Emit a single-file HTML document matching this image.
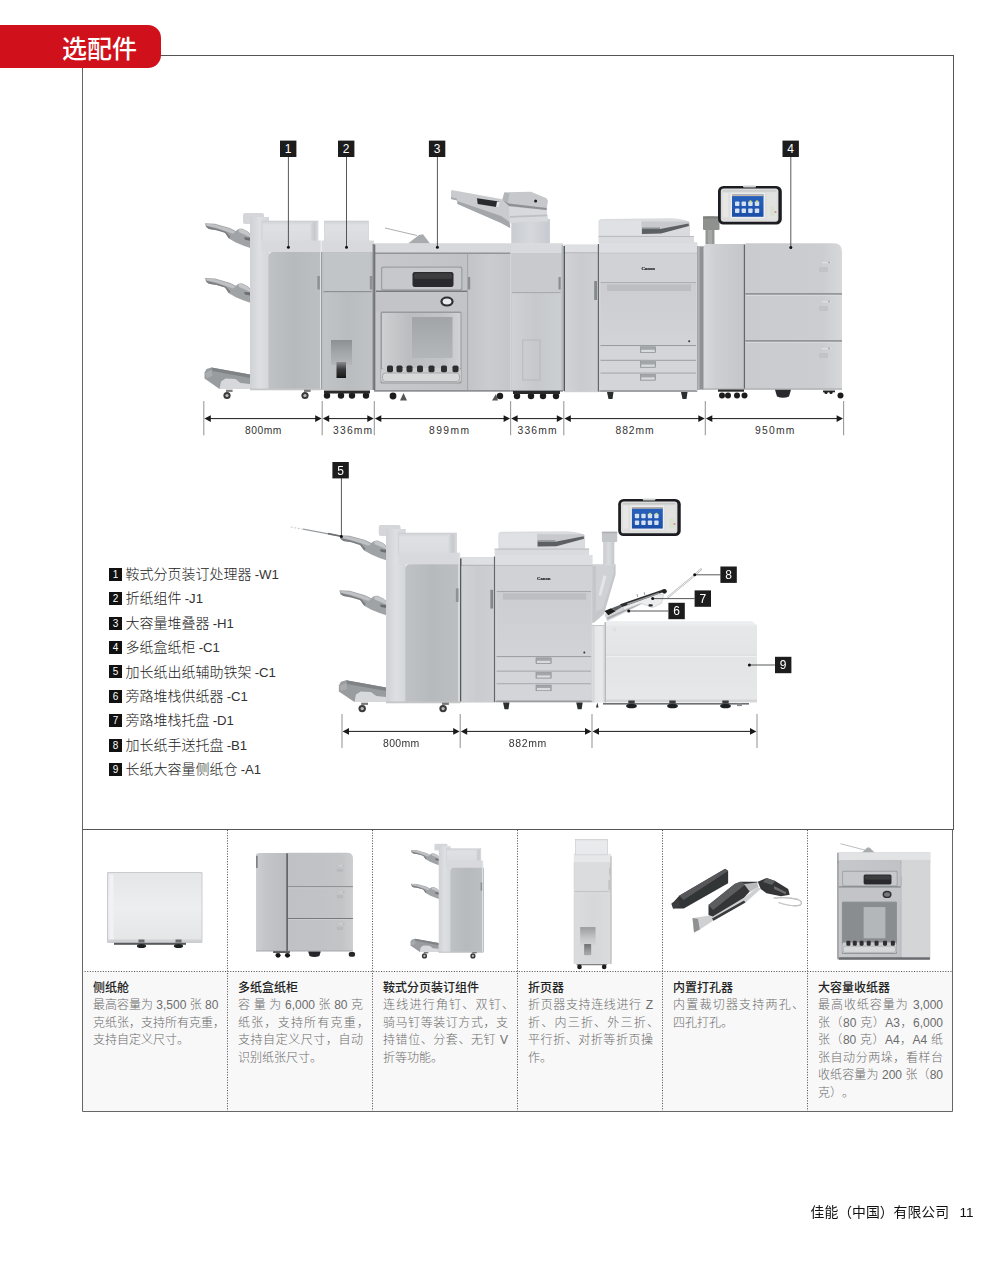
<!DOCTYPE html>
<html lang="zh-CN">
<head>
<meta charset="utf-8">
<title>选配件</title>
<style>
html,body{margin:0;padding:0;background:#fff;}
body{width:1000px;height:1266px;position:relative;overflow:hidden;font-family:"Liberation Sans","Noto Sans CJK SC",sans-serif;color:#222;}
.abs{position:absolute;}
#tab{left:0;top:25px;width:161px;height:43px;background:#d0111b;border-radius:0 13px 13px 0;}
#tab span{position:absolute;left:62px;top:6.5px;font-size:25px;line-height:34px;color:#fff;font-weight:400;font-family:"Liberation Sans","Noto Sans CJK SC Medium","Noto Sans CJK SC",sans-serif;letter-spacing:0;white-space:nowrap;}
#box{left:82px;top:55px;width:870px;height:773px;border:1px solid #555;border-left-color:#666;box-sizing:content-box;}
.hl{background:#555;height:1px;}
.vl{background:#666;width:1px;}
#legend{left:109px;top:562.1px;}
#legend div{height:24.4px;line-height:24.4px;font-size:14px;font-weight:300;color:#222;white-space:nowrap;}
#legend u{text-decoration:none;font-size:13.2px;color:#333;margin-left:-0.5px;}
#legend b{display:inline-block;width:13px;height:13px;background:#111;color:#fff;font-size:10px;line-height:13px;text-align:center;font-weight:400;margin-right:3.5px;font-family:"Liberation Sans",sans-serif;vertical-align:middle;position:relative;top:-1px;}
.num{position:absolute;width:17px;height:17px;background:#1c1c1c;color:#fff;font-size:12px;line-height:17px;text-align:center;font-family:"Liberation Sans",sans-serif;}
#tbl{left:82px;top:830px;width:871px;height:282px;}
.cell{position:absolute;top:0;width:145px;height:282px;}
.cell .txt{position:absolute;left:0;top:141.5px;width:145px;height:140px;background:#f8f8f8;}
.cell h4{margin:0;position:absolute;left:11px;top:8px;font-size:12px;line-height:17.6px;font-weight:400;font-family:"Liberation Sans","Noto Sans CJK SC Medium","Noto Sans CJK SC",sans-serif;color:#222;white-space:nowrap;}
.cell p span{display:block;white-space:nowrap;}
.cell p .ln{text-align:justify;text-align-last:justify;}
.cell p i{font-style:normal;font-feature-settings:"halt";}
.cell p{margin:0;position:absolute;left:11px;top:25.6px;width:125px;font-size:12px;line-height:17.6px;font-weight:300;color:#6c6c6c;text-align:justify;text-spacing-trim:space-all;}
#foot{right:26.5px;top:1202px;font-size:13.85px;line-height:20px;color:#111;white-space:nowrap;font-family:"Liberation Sans","Noto Sans CJK SC",sans-serif;}
#foot span{margin-left:10.5px;font-size:13.5px;}
</style>
</head>
<body>
<!-- frame -->
<div class="abs" id="box"></div>
<div class="abs" id="tab"><span>选配件</span></div>

<!-- legend -->
<div class="abs" id="legend">
<div><b>1</b>鞍式分页装订处理器<u> -W1</u></div>
<div><b>2</b>折纸组件<u> -J1</u></div>
<div><b>3</b>大容量堆叠器<u> -H1</u></div>
<div><b>4</b>多纸盒纸柜<u> -C1</u></div>
<div><b>5</b>加长纸出纸辅助铁架<u> -C1</u></div>
<div><b>6</b>旁路堆栈供纸器<u> -C1</u></div>
<div><b>7</b>旁路堆栈托盘<u> -D1</u></div>
<div><b>8</b>加长纸手送托盘<u> -B1</u></div>
<div><b>9</b>长纸大容量侧纸仓<u> -A1</u></div>
</div>

<svg class="abs" style="left:0;top:0" width="1000" height="1266" viewBox="0 0 1000 1266"><defs>
<filter id="soft" x="-2%" y="-2%" width="104%" height="104%"><feGaussianBlur stdDeviation="0.45"/></filter>
<linearGradient id="gTray" x1="0" y1="0" x2="1" y2="0"><stop offset="0" stop-color="#b9bbbe"/><stop offset="0.5" stop-color="#a4a7aa"/><stop offset="1" stop-color="#96999c"/></linearGradient>
<linearGradient id="gFrame" x1="0" y1="0" x2="1" y2="0"><stop offset="0" stop-color="#cfd1d5"/><stop offset="0.5" stop-color="#dddfe3"/><stop offset="1" stop-color="#d4d6da"/></linearGradient>
<linearGradient id="gTopTray" x1="0" y1="0" x2="0" y2="1"><stop offset="0" stop-color="#cfd1d5"/><stop offset="0.2" stop-color="#dee0e4"/><stop offset="1" stop-color="#d9dbdf"/></linearGradient>
<linearGradient id="gDoor" x1="0" y1="0" x2="1" y2="0"><stop offset="0" stop-color="#bfc2c5"/><stop offset="0.5" stop-color="#b7babd"/><stop offset="1" stop-color="#bcbfc2"/></linearGradient>
<linearGradient id="gFold" x1="0" y1="0" x2="1" y2="0"><stop offset="0" stop-color="#c1c4c7"/><stop offset="0.5" stop-color="#babdc0"/><stop offset="1" stop-color="#c0c3c6"/></linearGradient>
<linearGradient id="gSlot" x1="0" y1="0" x2="0" y2="1"><stop offset="0" stop-color="#8d9092"/><stop offset="0.5" stop-color="#a3a6a8"/><stop offset="1" stop-color="#b4b6b9"/></linearGradient>
<linearGradient id="gStk" x1="0" y1="0" x2="1" y2="0"><stop offset="0" stop-color="#c6c8cb"/><stop offset="1" stop-color="#c0c2c5"/></linearGradient>
<linearGradient id="gStkDoor" x1="0" y1="0" x2="1" y2="0"><stop offset="0" stop-color="#c2c4c7"/><stop offset="0.5" stop-color="#cacccf"/><stop offset="1" stop-color="#c4c6c9"/></linearGradient>
<linearGradient id="gFold2" x1="0" y1="0" x2="1" y2="0"><stop offset="0" stop-color="#cfd1d4"/><stop offset="0.5" stop-color="#c6c8cb"/><stop offset="1" stop-color="#cccfd1"/></linearGradient>
<linearGradient id="gWin" x1="0" y1="0" x2="1" y2="0"><stop offset="0" stop-color="#cdcfd1"/><stop offset="0.35" stop-color="#bbbdc0"/><stop offset="0.8" stop-color="#c2c4c7"/><stop offset="1" stop-color="#d0d2d4"/></linearGradient>
<linearGradient id="gWinIn" x1="0" y1="0" x2="0" y2="1"><stop offset="0" stop-color="#a2a5a8"/><stop offset="1" stop-color="#b4b7ba"/></linearGradient>
<linearGradient id="gMainL" x1="0" y1="0" x2="1" y2="0"><stop offset="0" stop-color="#d0d2d5"/><stop offset="0.5" stop-color="#c9cbce"/><stop offset="1" stop-color="#cdd0d2"/></linearGradient>
<linearGradient id="gMainDoor" x1="0" y1="0" x2="0" y2="1"><stop offset="0" stop-color="#cbcdd0"/><stop offset="1" stop-color="#d1d3d6"/></linearGradient>
<linearGradient id="gScreen" x1="0" y1="0" x2="0" y2="1"><stop offset="0" stop-color="#2a62bd"/><stop offset="1" stop-color="#1b4fa8"/></linearGradient>
<linearGradient id="gDeckL" x1="0" y1="0" x2="1" y2="0"><stop offset="0" stop-color="#d7d9dc"/><stop offset="0.3" stop-color="#cdcfd2"/><stop offset="1" stop-color="#c4c6c9"/></linearGradient>
<linearGradient id="gDeckR" x1="0" y1="0" x2="1" y2="0"><stop offset="0" stop-color="#c9cbce"/><stop offset="0.8" stop-color="#cccdd0"/><stop offset="1" stop-color="#d6d8da"/></linearGradient>
<linearGradient id="gSide" x1="0" y1="0" x2="0" y2="1"><stop offset="0" stop-color="#e7e8ea"/><stop offset="0.5" stop-color="#e3e4e6"/><stop offset="1" stop-color="#e7e8ea"/></linearGradient>
<linearGradient id="gSideP" x1="0" y1="0" x2="1" y2="0"><stop offset="0" stop-color="#c9cbce"/><stop offset="0.25" stop-color="#e6e7e9"/><stop offset="0.8" stop-color="#e9eaec"/><stop offset="1" stop-color="#d4d6d8"/></linearGradient>
<linearGradient id="gArm" x1="0" y1="0" x2="1" y2="0"><stop offset="0" stop-color="#c9cbce"/><stop offset="0.5" stop-color="#d9dbde"/><stop offset="1" stop-color="#c4c6c9"/></linearGradient>
<linearGradient id="gSideT" x1="0" y1="0" x2="0" y2="1"><stop offset="0" stop-color="#e4e6e8"/><stop offset="0.5" stop-color="#eceef0"/><stop offset="1" stop-color="#e3e5e7"/></linearGradient>
<filter id="darken"><feComponentTransfer><feFuncR type="linear" slope="0.9"/><feFuncG type="linear" slope="0.9"/><feFuncB type="linear" slope="0.9"/></feComponentTransfer></filter>
<filter id="lighten"><feComponentTransfer><feFuncR type="linear" slope="0.62" intercept="0.37"/><feFuncG type="linear" slope="0.62" intercept="0.37"/><feFuncB type="linear" slope="0.62" intercept="0.37"/></feComponentTransfer></filter>
<linearGradient id="gStem" x1="0" y1="0" x2="0" y2="1"><stop offset="0" stop-color="#8a8c8f"/><stop offset="0.45" stop-color="#3b3c3e"/><stop offset="1" stop-color="#161617"/></linearGradient>
<linearGradient id="gSlotT" x1="0" y1="0" x2="0" y2="1"><stop offset="0" stop-color="#9a9c9e"/><stop offset="0.6" stop-color="#c4c6c8"/><stop offset="1" stop-color="#d4d5d7"/></linearGradient>
<linearGradient id="gStemT" x1="0" y1="0" x2="0" y2="1"><stop offset="0" stop-color="#6f7173"/><stop offset="1" stop-color="#a9abad"/></linearGradient>
<linearGradient id="gPillar" x1="0" y1="0" x2="1" y2="0"><stop offset="0" stop-color="#c9ccd0"/><stop offset="0.5" stop-color="#d6d8dc"/><stop offset="1" stop-color="#c6c9cd"/></linearGradient>
<linearGradient id="gTopTrayR" x1="0" y1="0" x2="1" y2="0"><stop offset="0" stop-color="#d9dbdf"/><stop offset="0.6" stop-color="#c6c8cc"/><stop offset="1" stop-color="#d6d8dc"/></linearGradient>
</defs><g filter="url(#soft)"><path d="M205.0 223.2 L215.0 223.7 L229.8 228.0 L235.8 231.0 L238.4 228.9 L241.9 228.5 L247.1 231.0 L250.2 233.7 L250.2 248.0 L243.7 245.8 L235.8 242.4 L228.9 238.4 L225.0 232.8 L216.7 230.2 L208.9 228.9 L205.9 226.7Z" fill="#a0a3a6" /><path d="M206.0 223.8 L215.0 224.4 L229.5 228.7 L235.5 231.8 L233.0 233.7 L226.0 231.2 L216.0 227.8 L207.0 225.8Z" fill="#bfc1c4" /><path d="M205.9 226.7 L208.9 228.9 L216.7 230.2 L225.0 232.8 L228.9 238.4 L230.5 236.7 L226.0 231.7 L216.0 228.4 L207.0 226.2Z" fill="#7c7f82" /><path d="M238.4 229.4 L241.9 229.0 L247.1 231.5 L250.2 234.7 L250.2 237.2 L245.0 234.7 L239.0 232.2Z" fill="#c4c6c9" /><path d="M244.0 237.2 L250.2 237.7 L250.2 240.7 L245.0 239.7Z" fill="#6a6d70" /><path d="M205.0 278.0 L215.0 278.5 L229.8 282.8 L235.8 285.8 L238.4 283.7 L241.9 283.3 L247.1 285.8 L250.2 288.5 L250.2 302.8 L243.7 300.6 L235.8 297.2 L228.9 293.2 L225.0 287.6 L216.7 285.0 L208.9 283.7 L205.9 281.5Z" fill="#a0a3a6" /><path d="M206.0 278.6 L215.0 279.2 L229.5 283.5 L235.5 286.6 L233.0 288.5 L226.0 286.0 L216.0 282.6 L207.0 280.6Z" fill="#bfc1c4" /><path d="M205.9 281.5 L208.9 283.7 L216.7 285.0 L225.0 287.6 L228.9 293.2 L230.5 291.5 L226.0 286.5 L216.0 283.2 L207.0 281.0Z" fill="#7c7f82" /><path d="M238.4 284.2 L241.9 283.8 L247.1 286.3 L250.2 289.5 L250.2 292.0 L245.0 289.5 L239.0 287.0Z" fill="#c4c6c9" /><path d="M244.0 292.0 L250.2 292.5 L250.2 295.5 L245.0 294.5Z" fill="#6a6d70" /><path d="M204.5 372.5 L206.5 369.0 L211.5 367.5 L250.0 374.5 L250.0 389.0 L219.5 389.0 L204.5 378.5Z" fill="#999c9f" /><path d="M211.5 367.5 L250.0 374.5 L250.0 378.0 L212.5 371.0Z" fill="#808386" /><path d="M205.0 373.0 L211.5 370.0 L212.5 376.0 L206.5 378.0Z" fill="#a9acaf" /><path d="M221.0 381.5 L225.5 378.5 L235.5 379.0 L240.5 383.0 L250.0 384.0 L250.0 389.0 L219.5 389.0Z" fill="#d6d8db" /><rect x="243.0" y="213.0" width="21.0" height="11.0" fill="#d4d6d9" rx="2"/><rect x="250.0" y="217.0" width="19.0" height="173.0" fill="url(#gFrame)"/><rect x="262.0" y="221.0" width="56.0" height="21.0" fill="url(#gTopTray)" stroke="#c9cbce" stroke-width="0.6"/><rect x="310.0" y="222.0" width="7.5" height="19.0" fill="url(#gTopTrayR)"/><rect x="262.0" y="240.5" width="59.5" height="12.0" fill="#d7d9dd"/><path d="M268.5 389.5V257.0Q268.5 252.0 273.5 252.0H320.0V389.5Z" fill="url(#gDoor)" /><rect x="320.0" y="241.0" width="1.3" height="148.5" fill="#dfe1e3"/><rect x="321.2" y="252.0" width="0.9" height="137.5" fill="#85888b"/><rect x="317.3" y="276.0" width="2.6" height="13.5" fill="#8f9295"/><rect x="250.0" y="388.5" width="71.5" height="1.8" fill="#c4c6c8"/><circle cx="227" cy="395.5" r="3.6" fill="#3a3a3a" /><circle cx="227" cy="395.5" r="1.62" fill="#bbb" /><rect x="226.0" y="389.7" width="6.6" height="2.2" fill="#777"/><circle cx="305" cy="395.5" r="3.6" fill="#3a3a3a" /><circle cx="305" cy="395.5" r="1.62" fill="#bbb" /><rect x="304.0" y="389.7" width="6.6" height="2.2" fill="#777"/><rect x="324.5" y="221.0" width="44.0" height="21.0" fill="url(#gTopTray)" stroke="#c9cbce" stroke-width="0.6"/><rect x="322.0" y="240.5" width="52.0" height="12.0" fill="#d7d9dd"/><rect x="322.0" y="252.0" width="52.0" height="138.0" fill="#bcbfc2"/><rect x="323.5" y="252.5" width="47.0" height="38.5" fill="#c2c5c8"/><rect x="323.5" y="291.0" width="48.0" height="1.3" fill="#8d9093"/><rect x="323.5" y="292.5" width="49.0" height="97.0" fill="url(#gFold)"/><rect x="369.8" y="276.0" width="2.6" height="13.5" fill="#8f9295"/><rect x="372.6" y="244.0" width="1.6" height="146.0" fill="#808386"/><rect x="331.0" y="340.0" width="21.0" height="25.0" fill="url(#gSlot)"/><rect x="336.5" y="362.0" width="9.5" height="16.0" fill="url(#gStem)"/><circle cx="327" cy="395.5" r="3.2" fill="#1e1e1e" /><circle cx="341" cy="395.5" r="3.2" fill="#1e1e1e" /><circle cx="352" cy="395.5" r="3.2" fill="#1e1e1e" /><circle cx="366" cy="395.5" r="3.2" fill="#1e1e1e" /><rect x="324.0" y="390.5" width="46.0" height="3.0" fill="#2b2b2b"/><path d="M511.3 243.6 L511.3 221.0 L549.9 219.0 L549.9 243.6Z" fill="url(#gPillar)" /><path d="M451.0 190.4 L453.0 190.2 L501.1 198.9 L510.0 204.0 L510.2 228.1 L501.1 222.9 L457.5 204.0 L456.9 200.2 L451.0 198.9Z" fill="#c9cbce" /><path d="M457.2 201.0 L501.1 216.0 L509.5 222.0 L510.2 228.1 L501.1 222.9 L457.5 204.0Z" fill="#a4a7aa" /><path d="M451.0 197.0 L457.0 198.4 L457.0 200.4 L451.0 198.9Z" fill="#a9acaf" /><path d="M477.0 198.2 L499.2 201.5 L497.9 207.3 L477.7 204.0Z" fill="#2b2c2e" /><path d="M497.0 201.5 L499.6 201.8 L498.4 207.4 L496.0 207.0Z" fill="#e8e9ea" /><path d="M504.4 192.4 L531.0 191.7 L546.6 198.2 L547.9 200.8 L546.6 209.9 L547.9 221.6 L509.6 222.9 L508.9 206.0 L502.4 199.5Z" fill="#c6c8cc" /><path d="M509.0 206.5 L546.6 210.2 L547.9 221.6 L509.6 222.9Z" fill="#d7d9dc" /><path d="M502.4 199.5 L508.9 203.5 L546.6 208.0 L546.6 210.0 L508.9 206.0Z" fill="#8e9194" /><path d="M510.0 216.0 L547.0 214.5 L547.4 216.2 L510.0 217.8Z" fill="#bdbfc3" /><path d="M504.4 192.4 L509.5 193.0 L508.0 203.0 L502.4 199.5Z" fill="#b2b5b8" /><circle cx="535.6" cy="201.1" r="1.5" fill="#1c1c1d" /><path d="M385.0 228.0L417.0 235.5" stroke="#999" stroke-width="0.80" fill="none"/><path d="M408.0 243.6L419.0 235.0L423.0 234.2L430.0 243.6Z" fill="#a9acaf" /><rect x="374.0" y="243.6" width="136.6" height="148.0" fill="#c3c5c8"/><rect x="374.0" y="243.6" width="136.6" height="9.4" fill="#d6d8db"/><rect x="374.0" y="252.6" width="136.6" height="1.1" fill="#7d8083"/><rect x="374.0" y="244.5" width="1.3" height="146.0" fill="#6f7275"/><rect x="376.0" y="254.0" width="91.0" height="136.0" fill="url(#gStk)"/><rect x="467.3" y="254.0" width="1.0" height="136.0" fill="#999c9f"/><rect x="468.3" y="254.0" width="41.5" height="136.0" fill="url(#gStkDoor)"/><rect x="468.0" y="277.0" width="2.2" height="12.5" fill="#8b8e91"/><rect x="381.0" y="266.5" width="81.5" height="24.0" fill="#9da0a3" rx="2.0"/><rect x="382.2" y="267.7" width="79.0" height="21.6" fill="#c6c8cb" rx="1.5"/><rect x="412.5" y="272.0" width="41.0" height="15.0" fill="#2a2b2d" rx="2.2"/><rect x="414.0" y="273.3" width="38.0" height="5.5" fill="#3c3e41" rx="1.5"/><rect x="376.0" y="290.6" width="91.0" height="1.3" fill="#6d7073"/><rect x="376.0" y="292.5" width="91.0" height="19.5" fill="#c2c4c7"/><ellipse cx="447.0" cy="301.6" rx="6.6" ry="5.0" fill="#2e2f31"/><ellipse cx="447.0" cy="301.6" rx="4.4" ry="3.0" fill="#e9eaeb"/><rect x="380.5" y="311.5" width="81.0" height="72.0" fill="#989b9e" rx="1.5"/><rect x="382.0" y="313.0" width="78.5" height="55.0" fill="url(#gWin)"/><rect x="412.0" y="317.0" width="40.5" height="41.0" fill="url(#gWinIn)"/><rect x="381.0" y="368.0" width="80.0" height="14.5" fill="#c9cbcd" rx="3.0"/><rect x="382.5" y="373.0" width="77.0" height="8.5" fill="#d6d8da" rx="3.0" stroke="#8f9295" stroke-width="0.6"/><rect x="387.0" y="365.6" width="6.0" height="6.6" fill="#2d2e30" rx="1.6"/><rect x="396.5" y="365.6" width="6.0" height="6.6" fill="#2d2e30" rx="1.6"/><rect x="406.5" y="365.6" width="6.0" height="6.6" fill="#2d2e30" rx="1.6"/><rect x="417.0" y="365.6" width="6.0" height="6.6" fill="#2d2e30" rx="1.6"/><rect x="428.5" y="365.6" width="6.0" height="6.6" fill="#2d2e30" rx="1.6"/><rect x="441.0" y="365.6" width="6.0" height="6.6" fill="#2d2e30" rx="1.6"/><rect x="452.5" y="365.6" width="6.0" height="6.6" fill="#2d2e30" rx="1.6"/><rect x="374.0" y="390.0" width="136.6" height="1.6" fill="#8d9093"/><rect x="510.6" y="243.6" width="52.4" height="148.0" fill="#c9cbce"/><rect x="510.6" y="243.6" width="52.4" height="9.4" fill="#d8dadd"/><rect x="512.0" y="253.0" width="48.5" height="39.5" fill="#c8cacd"/><rect x="512.0" y="292.3" width="48.5" height="1.0" fill="#9c9fa2"/><rect x="512.0" y="293.3" width="48.5" height="97.0" fill="url(#gFold2)"/><rect x="558.5" y="277.0" width="2.2" height="12.5" fill="#8b8e91"/><rect x="561.6" y="245.0" width="1.4" height="146.0" fill="#b4b7ba"/><rect x="522.8" y="340.0" width="17.2" height="40.0" fill="none" stroke="#b0b3b6" stroke-width="0.7"/><rect x="510.6" y="390.0" width="52.4" height="1.6" fill="#8d9093"/><circle cx="393" cy="396" r="3.4" fill="#1e1e1e" /><circle cx="500" cy="396" r="3.2" fill="#1e1e1e" /><path d="M400 400.5L403.5 393L407 400.5Z" fill="#555" /><path d="M492 400.5L496 394L498 400.5Z" fill="#555" /><circle cx="517" cy="396" r="3.2" fill="#1e1e1e" /><circle cx="531" cy="396" r="3.2" fill="#1e1e1e" /><circle cx="543" cy="396" r="3.2" fill="#1e1e1e" /><circle cx="556" cy="396" r="3.2" fill="#1e1e1e" /><rect x="513.0" y="391.0" width="47.0" height="3.0" fill="#2b2b2b"/><rect x="705.5" y="216.5" width="9.0" height="28.0" fill="#959795"/><rect x="703.0" y="216.5" width="16.5" height="13.5" fill="#8f918f" rx="1"/><rect x="703.0" y="216.5" width="16.5" height="2.0" fill="#7d7f7d"/><rect x="708.0" y="230.0" width="4.0" height="14.0" fill="#a6a8a6"/><rect x="718.0" y="186.0" width="63.8" height="38.6" fill="#1d1f21" rx="5.5"/><rect x="720.8" y="188.6" width="57.6" height="33.2" fill="#dcdddc" rx="3.0"/><rect x="743.0" y="185.6" width="13.0" height="2.0" fill="#cfd1d1" rx="1.0"/><rect x="722.5" y="190.2" width="54.0" height="1.4" fill="#c6c8c8" rx="0.7"/><rect x="730.6" y="192.8" width="34.4" height="25.6" fill="#eceded"/><rect x="732.0" y="194.5" width="31.5" height="22.3" fill="url(#gScreen)"/><rect x="732.0" y="194.5" width="31.5" height="1.6" fill="#c9b9a6"/><rect x="735.0" y="201.4" width="4.4" height="4.6" fill="#d4e1f3" rx="0.8"/><rect x="741.6" y="201.4" width="4.4" height="4.6" fill="#d4e1f3" rx="0.8"/><rect x="748.2" y="201.4" width="4.4" height="4.6" fill="#d4e1f3" rx="0.8"/><circle cx="750.4000000000001" cy="201.4" r="1.2" fill="#c9dc6a" /><rect x="754.8" y="201.4" width="4.4" height="4.6" fill="#d4e1f3" rx="0.8"/><circle cx="757.0" cy="201.4" r="1.2" fill="#c9dc6a" /><rect x="735.0" y="208.4" width="4.4" height="4.6" fill="#d4e1f3" rx="0.8"/><rect x="741.6" y="208.4" width="4.4" height="4.6" fill="#d4e1f3" rx="0.8"/><rect x="748.2" y="208.4" width="4.4" height="4.6" fill="#d4e1f3" rx="0.8"/><rect x="754.8" y="208.4" width="4.4" height="4.6" fill="#d4e1f3" rx="0.8"/><rect x="723.0" y="193.0" width="5.4" height="24.0" fill="#e7e7e5"/><rect x="766.6" y="192.5" width="10.0" height="27.0" fill="#e2e3e1"/><rect x="770.0" y="206.0" width="5.0" height="10.0" fill="#d9e2d2"/><circle cx="775.5" cy="212.0" r="1.1" fill="#d98a8a" /><path d="M598.5 243.0V236.5H598.5V222.0Q598.5 219.0 602.0 219.0L672.0 218.3Q688.0 219.5 690.0 223.0L690.0 236.0H694.0V243.0Z" fill="#d9dbde" /><rect x="598.5" y="236.0" width="95.5" height="1.0" fill="#b9bcbf"/><rect x="599.5" y="220.5" width="42.0" height="14.5" fill="#dfe1e4"/><path d="M641.5 221.5L689.0 221.5L689.0 225.0L660.0 233.0L641.5 234.0Z" fill="#c7c9cc" /><path d="M642.0 229.0L660.0 229.0L688.5 223.5L689.0 226.0L661.0 233.5L642.0 234.0Z" fill="#5d6063" /><rect x="642.0" y="227.5" width="18.0" height="1.6" fill="#8e9194"/><rect x="563.5" y="244.7" width="35.5" height="147.5" fill="#cfd1d4"/><rect x="563.5" y="244.7" width="35.5" height="7.8" fill="#dedfe2"/><rect x="563.5" y="252.5" width="35.5" height="0.9" fill="#a5a8ab"/><rect x="563.5" y="246.0" width="1.5" height="145.0" fill="#55585b"/><rect x="565.0" y="253.4" width="33.0" height="138.0" fill="url(#gMainL)"/><rect x="594.2" y="281.0" width="2.8" height="19.0" fill="#85888b"/><rect x="597.8" y="244.0" width="1.5" height="147.5" fill="#63666a"/><rect x="599.3" y="242.5" width="98.0" height="149.0" fill="#d2d4d7"/><rect x="599.3" y="242.5" width="98.0" height="10.5" fill="#dcdee1"/><rect x="599.3" y="252.8" width="98.0" height="0.8" fill="#b6b9bc"/><rect x="600.5" y="253.6" width="95.5" height="28.6" fill="#d0d2d5"/><text x="648.2" y="269.6" font-size="4.8" font-weight="700" font-family="Liberation Serif,serif" text-anchor="middle" fill="#2a2a2a" stroke="#2a2a2a" stroke-width="0.2">Canon</text><rect x="600.5" y="282.2" width="95.5" height="1.0" fill="#a4a7aa"/><rect x="600.5" y="283.2" width="95.5" height="62.0" fill="url(#gMainDoor)"/><rect x="607.0" y="284.5" width="84.0" height="6.5" fill="#bcbec1"/><circle cx="689.2" cy="341.3" r="1.0" fill="#333" /><rect x="600.5" y="345.2" width="95.5" height="1.0" fill="#8c8f92"/><rect x="600.5" y="346.2" width="95.5" height="13.6" fill="#d3d5d8"/><rect x="600.5" y="359.8" width="95.5" height="1.1" fill="#a1a4a7"/><rect x="640.3" y="346.8" width="15.4" height="5.8" fill="#a3a6a9" stroke="#85888b" stroke-width="0.5"/><rect x="641.3" y="349.8" width="13.4" height="2.2" fill="#d9dbdd"/><rect x="600.5" y="361.0" width="95.5" height="11.6" fill="#d3d5d8"/><rect x="600.5" y="372.6" width="95.5" height="1.1" fill="#a1a4a7"/><rect x="640.3" y="361.6" width="15.4" height="5.8" fill="#a3a6a9" stroke="#85888b" stroke-width="0.5"/><rect x="641.3" y="364.6" width="13.4" height="2.2" fill="#d9dbdd"/><rect x="600.5" y="373.8" width="95.5" height="16.2" fill="#d3d5d8"/><rect x="600.5" y="390.0" width="95.5" height="1.1" fill="#a1a4a7"/><rect x="640.3" y="374.4" width="15.4" height="5.8" fill="#a3a6a9" stroke="#85888b" stroke-width="0.5"/><rect x="641.3" y="377.4" width="13.4" height="2.2" fill="#d9dbdd"/><rect x="697.0" y="246.0" width="7.0" height="144.0" fill="#b4b7ba"/><rect x="699.5" y="247.0" width="4.5" height="142.0" fill="#8f9295"/><rect x="697.0" y="246.0" width="1.2" height="144.0" fill="#a3a6a9"/><rect x="599.3" y="390.5" width="98.0" height="1.4" fill="#9a9da0"/><path d="M607.0 392.0H613.5L612.5 399.0L608.5 399.0Z" fill="#2c2d2f" /><path d="M681.0 392.0H687.5L686.5 399.0L682.5 399.0Z" fill="#2c2d2f" /><path d="M703.5 389.0V248.0Q703.5 244.0 708.0 244.0H744.6V389.0Z" fill="url(#gDeckL)" /><rect x="743.8" y="244.5" width="1.6" height="144.5" fill="#63666a"/><path d="M745.4 389.0V243.3H834.0Q842.0 243.3 842.0 252.0V389.0Z" fill="url(#gDeckR)" /><rect x="745.4" y="293.4" width="96.6" height="1.3" fill="#6f7275"/><rect x="745.4" y="294.7" width="96.6" height="1.2" fill="#d9dbdd"/><rect x="745.4" y="340.4" width="96.6" height="1.3" fill="#6f7275"/><rect x="745.4" y="341.7" width="96.6" height="1.2" fill="#d9dbdd"/><rect x="822.0" y="262.0" width="9.0" height="1.3" fill="#dfe1e3"/><rect x="819.0" y="267.0" width="9.0" height="5.0" fill="#c1c3c6" rx="1.0"/><circle cx="829.0" cy="262.6" r="1.0" fill="#a6a9ac" /><rect x="822.0" y="301.0" width="9.0" height="1.3" fill="#dfe1e3"/><rect x="819.0" y="306.0" width="9.0" height="5.0" fill="#c1c3c6" rx="1.0"/><circle cx="829.0" cy="301.6" r="1.0" fill="#a6a9ac" /><rect x="822.0" y="348.0" width="9.0" height="1.3" fill="#dfe1e3"/><rect x="819.0" y="353.0" width="9.0" height="5.0" fill="#c1c3c6" rx="1.0"/><circle cx="829.0" cy="348.6" r="1.0" fill="#a6a9ac" /><rect x="703.5" y="388.5" width="138.5" height="1.2" fill="#a3a6a9"/><rect x="718.0" y="389.5" width="26.0" height="2.2" fill="#2b2b2b"/><circle cx="722" cy="395.5" r="3" fill="#1e1e1e" /><circle cx="728" cy="395.5" r="3" fill="#1e1e1e" /><circle cx="737" cy="395.5" r="3" fill="#1e1e1e" /><circle cx="744.5" cy="395.5" r="3" fill="#1e1e1e" /><path d="M775 389.7H791L789 396.5Q783 399 777 396.5Z" fill="#2a2b2d" /><rect x="823.0" y="390.5" width="12.0" height="1.8" fill="#2b2b2b"/><circle cx="826" cy="392.5" r="1.6" fill="#1e1e1e" /><circle cx="831" cy="392.5" r="1.6" fill="#1e1e1e" /><circle cx="840.5" cy="395.5" r="3" fill="#1e1e1e" /></g><line x1="203.8" y1="401" x2="203.8" y2="435.2" stroke="#9a9a9a" stroke-width="1.1"/><line x1="322.2" y1="401" x2="322.2" y2="435.2" stroke="#9a9a9a" stroke-width="1.1"/><line x1="374.3" y1="401" x2="374.3" y2="435.2" stroke="#9a9a9a" stroke-width="1.1"/><line x1="510.6" y1="401" x2="510.6" y2="435.2" stroke="#9a9a9a" stroke-width="1.1"/><line x1="563.8" y1="401" x2="563.8" y2="435.2" stroke="#9a9a9a" stroke-width="1.1"/><line x1="705.3" y1="401" x2="705.3" y2="435.2" stroke="#9a9a9a" stroke-width="1.1"/><line x1="843.6" y1="401" x2="843.6" y2="435.2" stroke="#9a9a9a" stroke-width="1.1"/><line x1="207.8" y1="418.6" x2="318.2" y2="418.6" stroke="#1a1a1a" stroke-width="1"/><path d="M204.4 418.6L210.8 415.20000000000005V422.0Z" fill="#1a1a1a" /><path d="M321.59999999999997 418.6L315.2 415.20000000000005V422.0Z" fill="#1a1a1a" /><text x="245.0" y="434.2" font-size="10.3" fill="#333" textLength="36.4" lengthAdjust="spacing">800mm</text><line x1="326.2" y1="418.6" x2="370.3" y2="418.6" stroke="#1a1a1a" stroke-width="1"/><path d="M322.8 418.6L329.2 415.20000000000005V422.0Z" fill="#1a1a1a" /><path d="M373.7 418.6L367.3 415.20000000000005V422.0Z" fill="#1a1a1a" /><text x="333.1" y="434.2" font-size="10.3" fill="#333" textLength="39" lengthAdjust="spacing">336mm</text><line x1="378.3" y1="418.6" x2="506.6" y2="418.6" stroke="#1a1a1a" stroke-width="1"/><path d="M374.90000000000003 418.6L381.3 415.20000000000005V422.0Z" fill="#1a1a1a" /><path d="M510.0 418.6L503.6 415.20000000000005V422.0Z" fill="#1a1a1a" /><text x="429.0" y="434.2" font-size="10.3" fill="#333" textLength="40" lengthAdjust="spacing">899mm</text><line x1="514.6" y1="418.6" x2="559.8" y2="418.6" stroke="#1a1a1a" stroke-width="1"/><path d="M511.20000000000005 418.6L517.6 415.20000000000005V422.0Z" fill="#1a1a1a" /><path d="M563.1999999999999 418.6L556.8 415.20000000000005V422.0Z" fill="#1a1a1a" /><text x="517.5" y="434.2" font-size="10.3" fill="#333" textLength="39" lengthAdjust="spacing">336mm</text><line x1="567.8" y1="418.6" x2="701.3" y2="418.6" stroke="#1a1a1a" stroke-width="1"/><path d="M564.4 418.6L570.8 415.20000000000005V422.0Z" fill="#1a1a1a" /><path d="M704.6999999999999 418.6L698.3 415.20000000000005V422.0Z" fill="#1a1a1a" /><text x="615.5" y="434.2" font-size="10.3" fill="#333" textLength="38" lengthAdjust="spacing">882mm</text><line x1="709.3" y1="418.6" x2="839.6" y2="418.6" stroke="#1a1a1a" stroke-width="1"/><path d="M705.9 418.6L712.3 415.20000000000005V422.0Z" fill="#1a1a1a" /><path d="M843.0 418.6L836.6 415.20000000000005V422.0Z" fill="#1a1a1a" /><text x="754.9" y="434.2" font-size="10.3" fill="#333" textLength="39.5" lengthAdjust="spacing">950mm</text><line x1="288.4" y1="157" x2="288.4" y2="247.2" stroke="#3a3a3a" stroke-width="0.85"/><circle cx="288.4" cy="247.2" r="1.5" fill="#111" /><rect x="280" y="140.6" width="16.4" height="16.4" fill="#1c1c1c"/><text x="288.2" y="153.1" font-size="12" fill="#fff" text-anchor="middle">1</text><line x1="346.5" y1="157" x2="346.5" y2="247.2" stroke="#3a3a3a" stroke-width="0.85"/><circle cx="346.5" cy="247.2" r="1.5" fill="#111" /><rect x="338" y="140.6" width="16.4" height="16.4" fill="#1c1c1c"/><text x="346.2" y="153.1" font-size="12" fill="#fff" text-anchor="middle">2</text><line x1="437.4" y1="157" x2="437.4" y2="247.2" stroke="#3a3a3a" stroke-width="0.85"/><circle cx="437.4" cy="247.2" r="1.5" fill="#111" /><rect x="428.9" y="140.6" width="16.4" height="16.4" fill="#1c1c1c"/><text x="437.09999999999997" y="153.1" font-size="12" fill="#fff" text-anchor="middle">3</text><line x1="790.8" y1="157" x2="790.8" y2="247.6" stroke="#3a3a3a" stroke-width="0.85"/><circle cx="790.8" cy="247.6" r="1.5" fill="#111" /><rect x="782.5" y="140.6" width="16.4" height="16.4" fill="#1c1c1c"/><text x="790.7" y="153.1" font-size="12" fill="#fff" text-anchor="middle">4</text></svg>
<svg class="abs" style="left:0;top:0" width="1000" height="1266" viewBox="0 0 1000 1266"><g filter="url(#soft)"><g transform="translate(126.80,310.80) scale(1.0370,1.0056)"><path d="M205.0 223.2 L215.0 223.7 L229.8 228.0 L235.8 231.0 L238.4 228.9 L241.9 228.5 L247.1 231.0 L250.2 233.7 L250.2 248.0 L243.7 245.8 L235.8 242.4 L228.9 238.4 L225.0 232.8 L216.7 230.2 L208.9 228.9 L205.9 226.7Z" fill="#a0a3a6" /><path d="M206.0 223.8 L215.0 224.4 L229.5 228.7 L235.5 231.8 L233.0 233.7 L226.0 231.2 L216.0 227.8 L207.0 225.8Z" fill="#bfc1c4" /><path d="M205.9 226.7 L208.9 228.9 L216.7 230.2 L225.0 232.8 L228.9 238.4 L230.5 236.7 L226.0 231.7 L216.0 228.4 L207.0 226.2Z" fill="#7c7f82" /><path d="M238.4 229.4 L241.9 229.0 L247.1 231.5 L250.2 234.7 L250.2 237.2 L245.0 234.7 L239.0 232.2Z" fill="#c4c6c9" /><path d="M244.0 237.2 L250.2 237.7 L250.2 240.7 L245.0 239.7Z" fill="#6a6d70" /><path d="M205.0 278.0 L215.0 278.5 L229.8 282.8 L235.8 285.8 L238.4 283.7 L241.9 283.3 L247.1 285.8 L250.2 288.5 L250.2 302.8 L243.7 300.6 L235.8 297.2 L228.9 293.2 L225.0 287.6 L216.7 285.0 L208.9 283.7 L205.9 281.5Z" fill="#a0a3a6" /><path d="M206.0 278.6 L215.0 279.2 L229.5 283.5 L235.5 286.6 L233.0 288.5 L226.0 286.0 L216.0 282.6 L207.0 280.6Z" fill="#bfc1c4" /><path d="M205.9 281.5 L208.9 283.7 L216.7 285.0 L225.0 287.6 L228.9 293.2 L230.5 291.5 L226.0 286.5 L216.0 283.2 L207.0 281.0Z" fill="#7c7f82" /><path d="M238.4 284.2 L241.9 283.8 L247.1 286.3 L250.2 289.5 L250.2 292.0 L245.0 289.5 L239.0 287.0Z" fill="#c4c6c9" /><path d="M244.0 292.0 L250.2 292.5 L250.2 295.5 L245.0 294.5Z" fill="#6a6d70" /><path d="M204.5 372.5 L206.5 369.0 L211.5 367.5 L250.0 374.5 L250.0 389.0 L219.5 389.0 L204.5 378.5Z" fill="#999c9f" /><path d="M211.5 367.5 L250.0 374.5 L250.0 378.0 L212.5 371.0Z" fill="#808386" /><path d="M205.0 373.0 L211.5 370.0 L212.5 376.0 L206.5 378.0Z" fill="#a9acaf" /><path d="M221.0 381.5 L225.5 378.5 L235.5 379.0 L240.5 383.0 L250.0 384.0 L250.0 389.0 L219.5 389.0Z" fill="#d6d8db" /><rect x="243.0" y="213.0" width="21.0" height="11.0" fill="#d4d6d9" rx="2"/><rect x="250.0" y="217.0" width="19.0" height="173.0" fill="url(#gFrame)"/><rect x="262.0" y="221.0" width="56.0" height="21.0" fill="url(#gTopTray)" stroke="#c9cbce" stroke-width="0.6"/><rect x="310.0" y="222.0" width="7.5" height="19.0" fill="url(#gTopTrayR)"/><rect x="262.0" y="240.5" width="59.5" height="12.0" fill="#d7d9dd"/><path d="M268.5 389.5V257.0Q268.5 252.0 273.5 252.0H320.0V389.5Z" fill="url(#gDoor)" /><rect x="320.0" y="241.0" width="1.3" height="148.5" fill="#dfe1e3"/><rect x="321.2" y="252.0" width="0.9" height="137.5" fill="#85888b"/><rect x="317.3" y="276.0" width="2.6" height="13.5" fill="#8f9295"/><rect x="250.0" y="388.5" width="71.5" height="1.8" fill="#c4c6c8"/><circle cx="227" cy="395.5" r="3.6" fill="#3a3a3a" /><circle cx="227" cy="395.5" r="1.62" fill="#bbb" /><rect x="226.0" y="389.7" width="6.6" height="2.2" fill="#777"/><circle cx="305" cy="395.5" r="3.6" fill="#3a3a3a" /><circle cx="305" cy="395.5" r="1.62" fill="#bbb" /><rect x="304.0" y="389.7" width="6.6" height="2.2" fill="#777"/><path d="M158 215L171 217.4" stroke="#c9cbcd" stroke-width="1" stroke-dasharray="2 1.5" fill="none"/><path d="M170 217.2L206 224" stroke="#9a9da0" stroke-width="1.2" fill="none"/><path d="M194 221.6L208 224.4" stroke="#6d7073" stroke-width="1.6" fill="none"/></g><path d="M588 564.2H615.6V574.6L604 614L594 622.7H588Z" fill="#c5c7ca" /><path d="M596 566H613.5V574L603 608L596 612Z" fill="#cfd1d4" /><path d="M603.5 575.5L606.5 576L601 596L598.5 595Z" fill="#e4e5e7" /><rect x="588.0" y="564.2" width="27.6" height="1.4" fill="#d9dbdd"/><rect x="603.2" y="541.5" width="11.1" height="23.2" fill="url(#gArm)"/><rect x="601.9" y="531.7" width="15.3" height="10.4" fill="#c3c5c8" rx="0.8"/><rect x="601.9" y="531.7" width="15.3" height="1.6" fill="#aeb1b4"/><path d="M668.2 596.9L676 590.5L694.9 575L701 569.2" stroke="#b4b6b9" stroke-width="2" fill="none" stroke-linecap="round"/><path d="M668.2 596.9L676 590.5L694.9 575L701 569.2" stroke="#f3f3f4" stroke-width="1" fill="none" stroke-linecap="round"/><path d="M604.5 614L642 600L642 604L607 621.5Z" fill="#d3d5d8" /><path d="M607 617.5L640 603L640 604.5L607.5 619.5Z" fill="#a9acaf" /><path d="M622.7 607.1L657.8 594.1L663.5 594.8L661.7 603.2L652.6 607.6L640.9 603.4L624 609.9Z" fill="#ecedee" stroke="#b9bbbe" stroke-width="0.5"/><rect x="648.5" y="604.3" width="4.2" height="2.2" fill="#2e2f31" rx="0.8"/><path d="M620.1 604.3L663 589.4L664.3 591.7L621.4 607.3Z" fill="#2c2d2f" /><path d="M627 603.6L659 592.4L659.6 593.6L627.6 605Z" fill="#9a9da0" /><path d="M604.5 611L611 608.2L615.8 611L608.4 615.2Z" fill="#1b1c1d" /><path d="M611 608.4L621 604.5L622 607L615.6 610.8Z" fill="#5d6063" /><circle cx="664.4" cy="591.3" r="2.4" fill="#222325" /><path d="M637 594L637.7 597M644.2 592.2L644.8 595" stroke="#777" stroke-width="0.7" fill="none"/><g transform="translate(-97.30,315.90) scale(0.9890,0.9860)"><path d="M598.5 243.0V236.5H602.3V222.0Q602.3 219.0 605.8 219.0L672.0 218.3Q688.0 219.5 690.0 223.0L690.0 236.0H694.0V243.0Z" fill="#d9dbde" /><rect x="598.5" y="236.0" width="95.5" height="1.0" fill="#b9bcbf"/><rect x="603.3" y="220.5" width="38.2" height="14.5" fill="#dfe1e4"/><path d="M641.5 221.5L689.0 221.5L689.0 225.0L660.0 233.0L641.5 234.0Z" fill="#c7c9cc" /><path d="M642.0 229.0L660.0 229.0L688.5 223.5L689.0 226.0L661.0 233.5L642.0 234.0Z" fill="#5d6063" /><rect x="642.0" y="227.5" width="18.0" height="1.6" fill="#8e9194"/><rect x="563.5" y="244.7" width="35.5" height="147.5" fill="#cfd1d4"/><rect x="563.5" y="244.7" width="35.5" height="7.8" fill="#dedfe2"/><rect x="563.5" y="252.5" width="35.5" height="0.9" fill="#a5a8ab"/><rect x="563.5" y="246.0" width="1.5" height="145.0" fill="#55585b"/><rect x="565.0" y="253.4" width="33.0" height="138.0" fill="url(#gMainL)"/><rect x="594.2" y="277.8" width="2.8" height="19.0" fill="#85888b"/><rect x="597.8" y="244.0" width="1.5" height="147.5" fill="#63666a"/><rect x="599.3" y="242.5" width="98.0" height="149.0" fill="#d2d4d7"/><rect x="599.3" y="242.5" width="98.0" height="10.5" fill="#dcdee1"/><rect x="599.3" y="252.8" width="98.0" height="0.8" fill="#b6b9bc"/><rect x="600.5" y="253.6" width="95.5" height="25.4" fill="#d0d2d5"/><text x="648.2" y="268.0" font-size="4.8" font-weight="700" font-family="Liberation Serif,serif" text-anchor="middle" fill="#2a2a2a" stroke="#2a2a2a" stroke-width="0.2">Canon</text><rect x="600.5" y="279.0" width="95.5" height="1.0" fill="#a4a7aa"/><rect x="600.5" y="280.0" width="95.5" height="65.2" fill="url(#gMainDoor)"/><rect x="607.0" y="281.3" width="84.0" height="6.5" fill="#bcbec1"/><circle cx="689.2" cy="341.3" r="1.0" fill="#333" /><rect x="600.5" y="345.2" width="95.5" height="1.0" fill="#8c8f92"/><rect x="600.5" y="346.2" width="95.5" height="13.6" fill="#d3d5d8"/><rect x="600.5" y="359.8" width="95.5" height="1.1" fill="#a1a4a7"/><rect x="640.3" y="346.8" width="15.4" height="5.8" fill="#a3a6a9" stroke="#85888b" stroke-width="0.5"/><rect x="641.3" y="349.8" width="13.4" height="2.2" fill="#d9dbdd"/><rect x="600.5" y="361.0" width="95.5" height="11.6" fill="#d3d5d8"/><rect x="600.5" y="372.6" width="95.5" height="1.1" fill="#a1a4a7"/><rect x="640.3" y="361.6" width="15.4" height="5.8" fill="#a3a6a9" stroke="#85888b" stroke-width="0.5"/><rect x="641.3" y="364.6" width="13.4" height="2.2" fill="#d9dbdd"/><rect x="600.5" y="373.8" width="95.5" height="16.2" fill="#d3d5d8"/><rect x="600.5" y="390.0" width="95.5" height="1.1" fill="#a1a4a7"/><rect x="640.3" y="374.4" width="15.4" height="5.8" fill="#a3a6a9" stroke="#85888b" stroke-width="0.5"/><rect x="641.3" y="377.4" width="13.4" height="2.2" fill="#d9dbdd"/><rect x="599.3" y="390.5" width="98.0" height="1.4" fill="#9a9da0"/><path d="M607.0 392.0H613.5L612.5 399.0L608.5 399.0Z" fill="#2c2d2f" /><path d="M681.0 392.0H687.5L686.5 399.0L682.5 399.0Z" fill="#2c2d2f" /></g><g transform="translate(-85.44,320.44) scale(0.9800,0.9600)"><rect x="718.0" y="186.0" width="63.8" height="38.6" fill="#1d1f21" rx="5.5"/><rect x="720.8" y="188.6" width="57.6" height="33.2" fill="#dcdddc" rx="3.0"/><rect x="743.0" y="185.6" width="13.0" height="2.0" fill="#cfd1d1" rx="1.0"/><rect x="722.5" y="190.2" width="54.0" height="1.4" fill="#c6c8c8" rx="0.7"/><rect x="730.6" y="192.8" width="34.4" height="25.6" fill="#eceded"/><rect x="732.0" y="194.5" width="31.5" height="22.3" fill="url(#gScreen)"/><rect x="732.0" y="194.5" width="31.5" height="1.6" fill="#c9b9a6"/><rect x="735.0" y="201.4" width="4.4" height="4.6" fill="#d4e1f3" rx="0.8"/><rect x="741.6" y="201.4" width="4.4" height="4.6" fill="#d4e1f3" rx="0.8"/><rect x="748.2" y="201.4" width="4.4" height="4.6" fill="#d4e1f3" rx="0.8"/><circle cx="750.4000000000001" cy="201.4" r="1.2" fill="#c9dc6a" /><rect x="754.8" y="201.4" width="4.4" height="4.6" fill="#d4e1f3" rx="0.8"/><circle cx="757.0" cy="201.4" r="1.2" fill="#c9dc6a" /><rect x="735.0" y="208.4" width="4.4" height="4.6" fill="#d4e1f3" rx="0.8"/><rect x="741.6" y="208.4" width="4.4" height="4.6" fill="#d4e1f3" rx="0.8"/><rect x="748.2" y="208.4" width="4.4" height="4.6" fill="#d4e1f3" rx="0.8"/><rect x="754.8" y="208.4" width="4.4" height="4.6" fill="#d4e1f3" rx="0.8"/><rect x="723.0" y="193.0" width="5.4" height="24.0" fill="#e7e7e5"/><rect x="766.6" y="192.5" width="10.0" height="27.0" fill="#e2e3e1"/><rect x="770.0" y="206.0" width="5.0" height="10.0" fill="#d9e2d2"/><circle cx="775.5" cy="212.0" r="1.1" fill="#d98a8a" /></g><rect x="592.4" y="625.0" width="12.1" height="77.5" fill="url(#gSideP)"/><rect x="592.4" y="625.0" width="12.1" height="1.0" fill="#c4c6c9"/><rect x="604.5" y="622.0" width="1.6" height="80.5" fill="#b7b9bc"/><path d="M606 702.3V624Q606 621.6 608.5 621.6H752L757 625.5V702.3Z" fill="url(#gSide)" /><path d="M606 624Q606 621.6 608.5 621.6H752L757 625.5H606Z" fill="#ecedef" /><rect x="606.0" y="654.8" width="151.0" height="0.9" fill="#d0d2d4"/><rect x="606.0" y="655.7" width="151.0" height="0.9" fill="#f6f7f8"/><circle cx="614.5" cy="629.5" r="1.3" fill="none" stroke="#c9cbcd" stroke-width="0.5"/><rect x="606.0" y="699.5" width="151.0" height="2.8" fill="#d3d5d7"/><rect x="603.0" y="703.0" width="146.0" height="1.6" fill="#6d7073"/><rect x="628.3" y="700.5" width="6.4" height="3.0" fill="#3a3c3e"/><ellipse cx="631.5" cy="706" rx="5.4" ry="2.3" fill="#1f2022"/><rect x="669.3" y="700.5" width="6.4" height="3.0" fill="#3a3c3e"/><ellipse cx="672.5" cy="706" rx="5.4" ry="2.3" fill="#1f2022"/><rect x="722.3" y="700.5" width="6.4" height="3.0" fill="#3a3c3e"/><ellipse cx="725.5" cy="706" rx="5.4" ry="2.3" fill="#1f2022"/><path d="M596 707.5L597.3 702.5L598.6 707.5Z" fill="#333" /><rect x="737.0" y="703.5" width="5.0" height="2.6" fill="#8b8e91"/></g><line x1="342" y1="714" x2="342" y2="748" stroke="#9a9a9a" stroke-width="1.1"/><line x1="460.2" y1="714" x2="460.2" y2="748" stroke="#9a9a9a" stroke-width="1.1"/><line x1="592" y1="714" x2="592" y2="748" stroke="#9a9a9a" stroke-width="1.1"/><line x1="757" y1="714" x2="757" y2="748" stroke="#9a9a9a" stroke-width="1.1"/><line x1="346" y1="731.4" x2="456.2" y2="731.4" stroke="#1a1a1a" stroke-width="1"/><path d="M342.6 731.4L349 728.0V734.8Z" fill="#1a1a1a" /><path d="M459.59999999999997 731.4L453.2 728.0V734.8Z" fill="#1a1a1a" /><text x="383.1" y="747" font-size="10.5" fill="#333" textLength="36.2" lengthAdjust="spacing">800mm</text><line x1="464.2" y1="731.4" x2="588" y2="731.4" stroke="#1a1a1a" stroke-width="1"/><path d="M460.8 731.4L467.2 728.0V734.8Z" fill="#1a1a1a" /><path d="M591.4 731.4L585 728.0V734.8Z" fill="#1a1a1a" /><text x="508.8" y="747" font-size="10.5" fill="#333" textLength="37.5" lengthAdjust="spacing">882mm</text><line x1="596" y1="731.4" x2="753" y2="731.4" stroke="#1a1a1a" stroke-width="1"/><path d="M592.6 731.4L599 728.0V734.8Z" fill="#1a1a1a" /><path d="M756.4 731.4L750 728.0V734.8Z" fill="#1a1a1a" /><line x1="341.4" y1="478" x2="341.4" y2="536.4" stroke="#3a3a3a" stroke-width="0.85"/><circle cx="341.4" cy="536.4" r="1.5" fill="#111" /><rect x="332.4" y="462" width="16.4" height="16.4" fill="#1c1c1c"/><text x="340.59999999999997" y="474.5" font-size="12" fill="#fff" text-anchor="middle">5</text><line x1="720.4" y1="574.8" x2="694.7" y2="574.8" stroke="#3a3a3a" stroke-width="0.85"/><circle cx="694.7" cy="574.8" r="1.5" fill="#111" /><rect x="720.4" y="566.5" width="16.4" height="16.4" fill="#1c1c1c"/><text x="728.6" y="579.0" font-size="12" fill="#fff" text-anchor="middle">8</text><line x1="694.5" y1="598.6" x2="652.7" y2="598.6" stroke="#3a3a3a" stroke-width="0.85"/><circle cx="652.7" cy="598.6" r="1.5" fill="#111" /><rect x="694.6" y="590.4" width="16.4" height="16.4" fill="#1c1c1c"/><text x="702.8000000000001" y="602.9" font-size="12" fill="#fff" text-anchor="middle">7</text><line x1="668.3" y1="611" x2="628.7" y2="611" stroke="#3a3a3a" stroke-width="0.85"/><circle cx="628.7" cy="611" r="1.5" fill="#111" /><rect x="668.4" y="602.8" width="16.4" height="16.4" fill="#1c1c1c"/><text x="676.6" y="615.3" font-size="12" fill="#fff" text-anchor="middle">6</text><line x1="774.9" y1="665" x2="749.4" y2="665" stroke="#3a3a3a" stroke-width="0.85"/><circle cx="749.4" cy="665" r="1.5" fill="#111" /><rect x="775" y="656.8" width="16.4" height="16.4" fill="#1c1c1c"/><text x="783.2" y="669.3" font-size="12" fill="#fff" text-anchor="middle">9</text></svg>

<svg class="abs" style="left:0;top:0" width="1000" height="1266" viewBox="0 0 1000 1266"><g filter="url(#soft)"><rect x="107.0" y="872.0" width="95.5" height="71.0" fill="#c9cbcd" rx="1.2"/><rect x="108.0" y="873.0" width="93.5" height="69.0" fill="url(#gSideT)" rx="1"/><rect x="109.5" y="874.5" width="4.0" height="66.0" fill="#f1f2f3"/><rect x="108.0" y="939.5" width="93.5" height="2.8" fill="#cfd1d3"/><rect x="114.0" y="942.8" width="72.0" height="2.0" fill="#55585b"/><rect x="138.5" y="939.5" width="6.0" height="3.0" fill="#6a6d70"/><ellipse cx="141.5" cy="946" rx="4.6" ry="2" fill="#1f2022"/><rect x="175.5" y="939.5" width="6.0" height="3.0" fill="#6a6d70"/><ellipse cx="178.5" cy="946" rx="4.6" ry="2" fill="#1f2022"/><g filter="url(#darken)"><g transform="translate(-236.45,688.40) scale(0.7000,0.6750)"><path d="M703.5 389.0V248.0Q703.5 244.0 708.0 244.0H748.0V389.0Z" fill="url(#gDeckL)" /><rect x="747.2" y="244.5" width="1.6" height="144.5" fill="#63666a"/><path d="M748.8 389.0V243.3H834.0Q842.0 243.3 842.0 252.0V389.0Z" fill="url(#gDeckR)" /><rect x="748.8" y="293.4" width="93.2" height="1.3" fill="#6f7275"/><rect x="748.8" y="294.7" width="93.2" height="1.2" fill="#d9dbdd"/><rect x="748.8" y="340.4" width="93.2" height="1.3" fill="#6f7275"/><rect x="748.8" y="341.7" width="93.2" height="1.2" fill="#d9dbdd"/><rect x="822.0" y="262.0" width="9.0" height="1.3" fill="#dfe1e3"/><rect x="819.0" y="267.0" width="9.0" height="5.0" fill="#c1c3c6" rx="1.0"/><circle cx="829.0" cy="262.6" r="1.0" fill="#a6a9ac" /><rect x="822.0" y="301.0" width="9.0" height="1.3" fill="#dfe1e3"/><rect x="819.0" y="306.0" width="9.0" height="5.0" fill="#c1c3c6" rx="1.0"/><circle cx="829.0" cy="301.6" r="1.0" fill="#a6a9ac" /><rect x="822.0" y="348.0" width="9.0" height="1.3" fill="#dfe1e3"/><rect x="819.0" y="353.0" width="9.0" height="5.0" fill="#c1c3c6" rx="1.0"/><circle cx="829.0" cy="348.6" r="1.0" fill="#a6a9ac" /><rect x="703.5" y="388.5" width="138.5" height="1.2" fill="#a3a6a9"/><rect x="728.0" y="389.5" width="24.0" height="2.2" fill="#3b3b3b"/><circle cx="735" cy="395.5" r="3.6" fill="#1e1e1e" /><circle cx="748.5" cy="395.5" r="3.6" fill="#1e1e1e" /><path d="M778 389.7H796L794 396.5Q787 399 780 396.5Z" fill="#2a2b2d" /><rect x="836.0" y="390.5" width="9.0" height="7.0" fill="#2b2b2b" rx="2.5"/><rect x="747.0" y="244.5" width="2.2" height="144.5" fill="#6a6d70"/><rect x="703.5" y="248.0" width="2.4" height="18.0" fill="#85888b"/></g></g><g transform="translate(283.50,712.70) scale(0.6210,0.6150)"><path d="M205.0 223.2 L215.0 223.7 L229.8 228.0 L235.8 231.0 L238.4 228.9 L241.9 228.5 L247.1 231.0 L250.2 233.7 L250.2 248.0 L243.7 245.8 L235.8 242.4 L228.9 238.4 L225.0 232.8 L216.7 230.2 L208.9 228.9 L205.9 226.7Z" fill="#a0a3a6" /><path d="M206.0 223.8 L215.0 224.4 L229.5 228.7 L235.5 231.8 L233.0 233.7 L226.0 231.2 L216.0 227.8 L207.0 225.8Z" fill="#bfc1c4" /><path d="M205.9 226.7 L208.9 228.9 L216.7 230.2 L225.0 232.8 L228.9 238.4 L230.5 236.7 L226.0 231.7 L216.0 228.4 L207.0 226.2Z" fill="#7c7f82" /><path d="M238.4 229.4 L241.9 229.0 L247.1 231.5 L250.2 234.7 L250.2 237.2 L245.0 234.7 L239.0 232.2Z" fill="#c4c6c9" /><path d="M244.0 237.2 L250.2 237.7 L250.2 240.7 L245.0 239.7Z" fill="#6a6d70" /><path d="M205.0 278.0 L215.0 278.5 L229.8 282.8 L235.8 285.8 L238.4 283.7 L241.9 283.3 L247.1 285.8 L250.2 288.5 L250.2 302.8 L243.7 300.6 L235.8 297.2 L228.9 293.2 L225.0 287.6 L216.7 285.0 L208.9 283.7 L205.9 281.5Z" fill="#a0a3a6" /><path d="M206.0 278.6 L215.0 279.2 L229.5 283.5 L235.5 286.6 L233.0 288.5 L226.0 286.0 L216.0 282.6 L207.0 280.6Z" fill="#bfc1c4" /><path d="M205.9 281.5 L208.9 283.7 L216.7 285.0 L225.0 287.6 L228.9 293.2 L230.5 291.5 L226.0 286.5 L216.0 283.2 L207.0 281.0Z" fill="#7c7f82" /><path d="M238.4 284.2 L241.9 283.8 L247.1 286.3 L250.2 289.5 L250.2 292.0 L245.0 289.5 L239.0 287.0Z" fill="#c4c6c9" /><path d="M244.0 292.0 L250.2 292.5 L250.2 295.5 L245.0 294.5Z" fill="#6a6d70" /><path d="M204.5 372.5 L206.5 369.0 L211.5 367.5 L250.0 374.5 L250.0 389.0 L219.5 389.0 L204.5 378.5Z" fill="#999c9f" /><path d="M211.5 367.5 L250.0 374.5 L250.0 378.0 L212.5 371.0Z" fill="#808386" /><path d="M205.0 373.0 L211.5 370.0 L212.5 376.0 L206.5 378.0Z" fill="#a9acaf" /><path d="M221.0 381.5 L225.5 378.5 L235.5 379.0 L240.5 383.0 L250.0 384.0 L250.0 389.0 L219.5 389.0Z" fill="#d6d8db" /><rect x="243.0" y="213.0" width="21.0" height="11.0" fill="#d4d6d9" rx="2"/><rect x="250.0" y="217.0" width="19.0" height="173.0" fill="url(#gFrame)"/><rect x="262.0" y="221.0" width="56.0" height="21.0" fill="url(#gTopTray)" stroke="#c9cbce" stroke-width="0.6"/><rect x="310.0" y="222.0" width="7.5" height="19.0" fill="url(#gTopTrayR)"/><rect x="262.0" y="240.5" width="59.5" height="12.0" fill="#d7d9dd"/><path d="M268.5 389.5V257.0Q268.5 252.0 273.5 252.0H320.0V389.5Z" fill="url(#gDoor)" /><rect x="320.0" y="241.0" width="1.3" height="148.5" fill="#dfe1e3"/><rect x="321.2" y="252.0" width="0.9" height="137.5" fill="#85888b"/><rect x="317.3" y="276.0" width="2.6" height="13.5" fill="#8f9295"/><rect x="250.0" y="388.5" width="71.5" height="1.8" fill="#c4c6c8"/><circle cx="227" cy="395.5" r="4.2" fill="#3a3a3a" /><circle cx="227" cy="395.5" r="1.8900000000000001" fill="#bbb" /><rect x="226.0" y="389.1" width="7.2" height="2.2" fill="#777"/><circle cx="305" cy="395.5" r="4.2" fill="#3a3a3a" /><circle cx="305" cy="395.5" r="1.8900000000000001" fill="#bbb" /><rect x="304.0" y="389.1" width="7.2" height="2.2" fill="#777"/></g><g filter="url(#lighten)"><g transform="translate(340.25,676.50) scale(0.7250,0.7370)"><rect x="324.5" y="221.0" width="44.0" height="21.0" fill="url(#gTopTray)" stroke="#c9cbce" stroke-width="0.6"/><rect x="322.0" y="240.5" width="52.0" height="12.0" fill="#d7d9dd"/><rect x="322.0" y="252.0" width="52.0" height="138.0" fill="#bcbfc2"/><rect x="323.5" y="252.5" width="47.0" height="38.5" fill="#c2c5c8"/><rect x="323.5" y="291.0" width="48.0" height="1.3" fill="#8d9093"/><rect x="323.5" y="292.5" width="49.0" height="97.0" fill="url(#gFold)"/><rect x="369.8" y="276.0" width="2.6" height="13.5" fill="#8f9295"/><rect x="372.6" y="244.0" width="1.6" height="146.0" fill="#808386"/><rect x="331.0" y="340.0" width="21.0" height="25.0" fill="url(#gSlot)"/><rect x="336.5" y="362.0" width="9.5" height="16.0" fill="url(#gStem)"/></g></g><g transform="translate(340.25,676.50) scale(0.7250,0.7370)"><rect x="326.0" y="390.2" width="42.0" height="1.6" fill="#77797c"/><circle cx="330" cy="394" r="3.2" fill="#1e1e1e" /><circle cx="364" cy="394" r="3.2" fill="#1e1e1e" /><rect x="331.0" y="340.0" width="21.0" height="25.0" fill="url(#gSlotT)"/><rect x="336.5" y="363.0" width="9.5" height="14.0" fill="url(#gStemT)"/><rect x="324.5" y="221.0" width="44.0" height="21.0" fill="none" stroke="#c9cbcd" stroke-width="0.8"/><rect x="371.2" y="260.0" width="1.2" height="9.0" fill="#b5b7b9"/></g><path d="M671.5 904.2 L679.5 895.5 L725.2 868.7 L728.1 870.9 L728.1 883.2 L683.8 908.6 L673.7 908.6Z" fill="#333435" /><path d="M679.5 895.5 L725.2 868.7 L728.1 870.9 L683.5 900.0Z" fill="#58595b" /><path d="M671.5 903.3 L679.0 899.5 L680.0 906.5 L673.0 908.8Z" fill="#3c3d3f" /><path d="M692.5 918.0 L708.5 915.8 L743.3 898.4 L757.8 886.8 L760.7 889.0 L746.2 902.0 L712.8 920.9 L699.8 929.6 L694.0 932.5Z" fill="#cfd0d2" /><path d="M692.5 918.0 L698.0 919.0 L699.8 929.6 L694.0 932.5Z" fill="#8e9092" /><path d="M712.0 918.5 L744.0 900.5 L745.5 902.5 L713.5 920.8Z" fill="#3a3b3d" /><path d="M708.5 905.0 L734.6 883.9 L740.4 881.7 L757.8 881.7 L752.0 889.0 L744.0 897.7 L712.8 916.5 L708.5 915.1Z" fill="#353637" /><path d="M708.5 905.0 L734.6 883.9 L740.4 881.7 L746.0 884.0 L713.0 910.0Z" fill="#5b5d5f" /><path d="M744.0 884.0 L757.0 882.5 L758.5 886.5 L750.0 892.0Z" fill="#b9bbbd" /><path d="M757.8 881.7 L766.5 878.1 L775.2 881.0 L788.2 889.0 L789.7 894.8 L781.0 896.2 L766.5 893.3 L760.7 889.0Z" fill="#343536" /><path d="M766.5 878.1 L775.2 881.0 L772.0 885.0 L763.0 882.0Z" fill="#5c5e60" /><path d="M774.0 886.0 L786.0 892.0 L786.0 894.5 L774.0 889.0Z" fill="#6a6c6e" /><path d="M773.7 898.2Q787 896.5 798 899.5Q803.5 902 800.5 904.8Q794 907.5 778.5 902.5" stroke="#a9abad" stroke-width="1.3" fill="none"/><path d="M773.7 898.2Q787 896.5 798 899.5Q803.5 902 800.5 904.8Q794 907.5 778.5 902.5" stroke="#e4e5e6" stroke-width="0.5" fill="none"/><path d="M840.4 843.7L873.8 852.4" stroke="#aaadb0" stroke-width="0.8" fill="none"/><path d="M861.5 853L867.3 847.6L869.5 847.4L875 853Z" fill="#a9acaf" /><g transform="translate(583.55,675.80) scale(0.6790,0.7250)"><rect x="374.0" y="243.6" width="136.6" height="148.0" fill="#c3c5c8"/><rect x="374.0" y="243.6" width="136.6" height="13.0" fill="#e2e3e5"/><rect x="374.0" y="256.2" width="136.6" height="1.1" fill="#7d8083"/><rect x="374.0" y="244.5" width="1.3" height="146.0" fill="#6f7275"/><rect x="376.0" y="254.0" width="91.0" height="136.0" fill="url(#gStk)"/><rect x="467.3" y="254.0" width="1.0" height="136.0" fill="#999c9f"/><rect x="468.3" y="254.0" width="41.5" height="136.0" fill="url(#gStkDoor)"/><rect x="468.0" y="277.0" width="2.2" height="12.5" fill="#8b8e91"/><rect x="381.0" y="269.0" width="81.5" height="21.5" fill="#9da0a3" rx="2.0"/><rect x="382.2" y="270.2" width="79.0" height="19.1" fill="#c6c8cb" rx="1.5"/><rect x="412.5" y="274.0" width="41.0" height="13.8" fill="#2a2b2d" rx="2.2"/><rect x="414.0" y="275.3" width="38.0" height="5.5" fill="#3c3e41" rx="1.5"/><rect x="376.0" y="290.6" width="91.0" height="1.3" fill="#6d7073"/><rect x="376.0" y="292.5" width="91.0" height="19.5" fill="#c2c4c7"/><ellipse cx="447.0" cy="301.6" rx="6.6" ry="5.0" fill="#2e2f31"/><ellipse cx="447.0" cy="301.6" rx="4.4" ry="3.0" fill="#77797c"/><rect x="380.5" y="311.5" width="81.0" height="72.0" fill="#989b9e" rx="1.5"/><rect x="380.5" y="311.5" width="81.0" height="72.0" fill="#8f9295" rx="1.5"/><rect x="382.0" y="313.0" width="78.5" height="55.0" fill="#8a8d90"/><rect x="412.5" y="319.0" width="32.0" height="43.0" fill="#b4b7ba"/><rect x="381.0" y="368.0" width="80.0" height="14.5" fill="#c9cbcd" rx="3.0"/><rect x="382.5" y="373.0" width="77.0" height="8.5" fill="#d6d8da" rx="3.0" stroke="#8f9295" stroke-width="0.6"/><rect x="387.0" y="365.6" width="6.0" height="6.6" fill="#2d2e30" rx="1.6"/><rect x="396.5" y="365.6" width="6.0" height="6.6" fill="#2d2e30" rx="1.6"/><rect x="406.5" y="365.6" width="6.0" height="6.6" fill="#2d2e30" rx="1.6"/><rect x="417.0" y="365.6" width="6.0" height="6.6" fill="#2d2e30" rx="1.6"/><rect x="428.5" y="365.6" width="6.0" height="6.6" fill="#2d2e30" rx="1.6"/><rect x="441.0" y="365.6" width="6.0" height="6.6" fill="#2d2e30" rx="1.6"/><rect x="452.5" y="365.6" width="6.0" height="6.6" fill="#2d2e30" rx="1.6"/><rect x="376.0" y="388.2" width="134.0" height="3.4" fill="#6a6d70"/><rect x="468.3" y="254.0" width="41.5" height="134.0" fill="#d3d5d7"/></g></g></svg>
<!-- table -->
<div class="abs" id="tbl">
<div class="cell" style="left:0px"><div class="txt"><h4>侧纸舱</h4><p><span class="ln">最高容量为 3,500 张 80</span><span class="ln">克纸张，支持所有克重<i>，</i></span><span class="ll">支持自定义尺寸。</span></p></div></div>
<div class="cell" style="left:145px"><div class="txt"><h4>多纸盒纸柜</h4><p><span class="ln">容 量 为 6,000 张 80 克</span><span class="ln">纸张，支持所有克重<i>，</i></span><span class="ln">支持自定义尺寸，自动</span><span class="ll">识别纸张尺寸。</span></p></div></div>
<div class="cell" style="left:290px"><div class="txt"><h4>鞍式分页装订组件</h4><p><span class="ln">连线进行角钉、双钉<i>、</i></span><span class="ln">骑马钉等装订方式，支</span><span class="ln">持错位、分套、无钉 V</span><span class="ll">折等功能。</span></p></div></div>
<div class="cell" style="left:435px"><div class="txt"><h4>折页器</h4><p><span class="ln">折页器支持连线进行 Z</span><span class="ln">折、内三折、外三折<i>、</i></span><span class="ln">平行折、对折等折页操</span><span class="ll">作。</span></p></div></div>
<div class="cell" style="left:580px"><div class="txt"><h4>内置打孔器</h4><p><span class="ln">内置裁切器支持两孔<i>、</i></span><span class="ll">四孔打孔。</span></p></div></div>
<div class="cell" style="left:725px"><div class="txt"><h4>大容量收纸器</h4><p><span class="ln">最高收纸容量为 3,000</span><span class="ln">张（80 克）A3，6,000</span><span class="ln">张（80 克）A4，A4 纸</span><span class="ln">张自动分两垛，看样台</span><span class="ln">收纸容量为 200 张（80</span><span class="ll">克）。</span></p></div></div>
<svg class="abs" style="left:0;top:0" width="871" height="283" viewBox="0 0 871 283">
<g stroke="#555" stroke-width="1" stroke-dasharray="1.1 1.5" fill="none">
<path d="M145.5 0V282M290.5 0V282M435.5 0V282M580.5 0V282M725.5 0V282"/>
<path d="M0 141.5H871"/>
</g>
<path d="M0.5 0V281.5H870.5V0" stroke="#666" stroke-width="1" fill="none"/>
</svg>
</div>

<div class="abs" id="foot">佳能（中国）有限公司<span>11</span></div>
</body>
</html>
